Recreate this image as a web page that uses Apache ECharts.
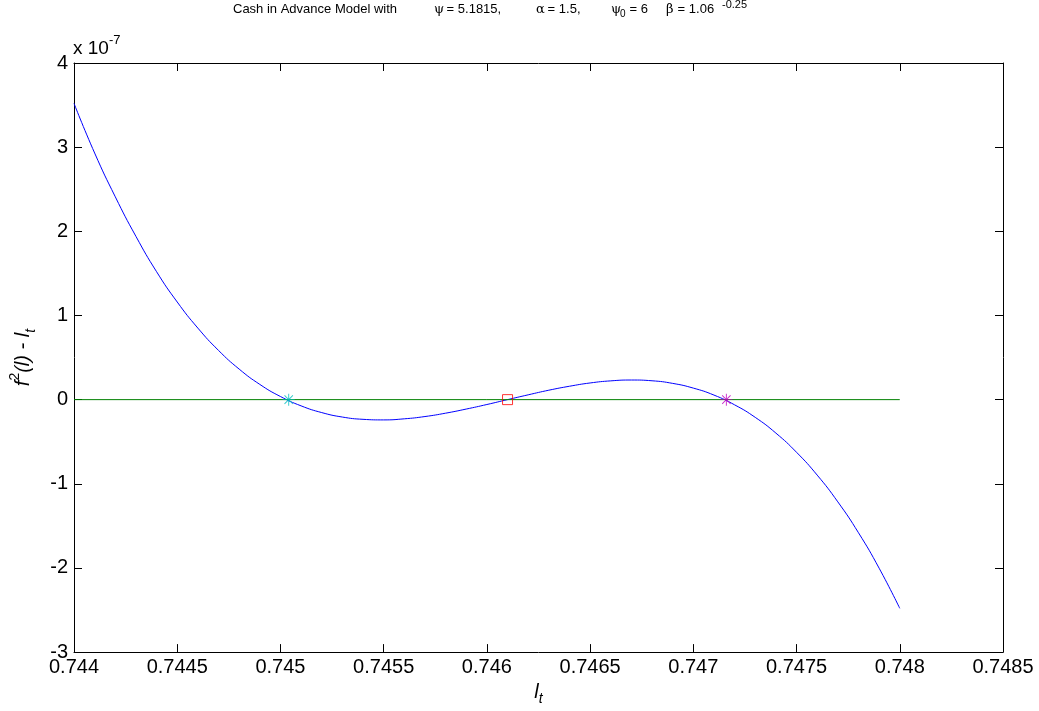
<!DOCTYPE html>
<html><head><meta charset="utf-8">
<script src="https://cdn.jsdelivr.net/npm/echarts@6/dist/echarts.min.js"></script>
<style>html,body{margin:0;padding:0;background:#fff}#c{width:1039px;height:711px}</style>
</head><body><div id="c"></div>
<script>
// x values of the plotted curve (l_t)
const xValues = [0.7440,0.7441,0.7442,0.7443,0.7444,0.7445,0.7446,0.7447,0.7448,0.7449,
  0.7450,0.7451,0.7452,0.7453,0.7454,0.7455,0.7456,0.7457,0.7458,0.7459,
  0.7460,0.7461,0.7462,0.7463,0.7464,0.7465,0.7466,0.7467,0.7468,0.7469,
  0.7470,0.7471,0.7472,0.7473,0.7474,0.7475,0.7476,0.7477,0.7478,0.7479,0.7480];
// f^2(l) - l_t, in units of 1e-7
const curveValues = [3.52,2.93,2.41,1.94,1.52,1.16,0.85,0.585,0.363,0.181,
  0.037,-0.074,-0.154,-0.207,-0.234,-0.241,-0.228,-0.201,-0.161,-0.112,
  -0.058,0.0,0.057,0.112,0.159,0.198,0.223,0.233,0.224,0.193,
  0.137,0.054,-0.062,-0.211,-0.398,-0.626,-0.897,-1.215,-1.582,-2.003,-2.48];
// zero reference line
const zeroLineX = [0.744, 0.748];
const zeroLineY = [0, 0];
// fixed points (roots)
const rootX = [0.74504, 0.74610, 0.74716];
const rootY = [0, 0, 0];
// ticks
const xTickLabels = ['0.744','0.7445','0.745','0.7455','0.746','0.7465','0.747','0.7475','0.748','0.7485'];
const yTickLabels = ['-3','-2','-1','0','1','2','3','4'];
const xMin = 0.744, xMax = 0.7485, xStep = 0.0005;
const yMin = -3, yMax = 4, yStep = 1;

const FONT = 'Liberation Sans';
const star = 'path://M0 4.6L10 4.6L10 5.4L0 5.4Z M4.6 0L5.4 0L5.4 10L4.6 10Z M1.78 1.22L8.78 8.22L8.22 8.78L1.22 1.78Z M8.78 1.78L1.78 8.78L1.22 8.22L8.22 1.22Z';

const chart = echarts.init(document.getElementById('c'), null, {renderer:'canvas'});
const xLab = v => { const i = Math.round((v - xMin) / xStep); return xTickLabels[i] || ''; };
const yLab = v => { const i = Math.round((v - yMin) / yStep); return yTickLabels[i] || ''; };
const tick = {show:true, inside:true, length:8, lineStyle:{color:'#000', width:1}};
const line = {show:true, onZero:false, lineStyle:{color:'#000', width:1}};

const tStyle = {fontFamily:FONT, fontSize:13, fill:'#000'};
const gStyle = {fontFamily:'DejaVu Serif', fontSize:13, fill:'#000'};
const TY = 16; // title baseline

chart.setOption({
  animation:false,
  backgroundColor:'#fff',
  grid:{left:73, right:36, top:63, bottom:54, containLabel:false},
  xAxis:[
    {type:'value', min:xMin, max:xMax, interval:xStep, position:'bottom',
     axisLine:line, axisTick:tick, splitLine:{show:false},
     axisLabel:{formatter:xLab, fontFamily:FONT, fontSize:20, color:'#000', margin:5},
     name:'{i|l}{sub|t}', nameLocation:'middle', nameGap:20,
     nameTextStyle:{rich:{
       i:{fontFamily:FONT, fontStyle:'italic', fontSize:20, color:'#000', lineHeight:28, verticalAlign:'middle'},
       sub:{fontFamily:FONT, fontStyle:'italic', fontSize:14, color:'#000', lineHeight:14, verticalAlign:'bottom'}}}},
    {type:'value', min:xMin, max:xMax, interval:xStep, position:'top',
     axisLine:line, axisTick:tick, axisLabel:{show:false}, splitLine:{show:false}}
  ],
  yAxis:[
    {type:'value', min:yMin, max:yMax, interval:yStep, position:'left',
     axisLine:line, axisTick:tick, splitLine:{show:false},
     axisLabel:{formatter:yLab, fontFamily:FONT, fontSize:20, color:'#000', margin:6},
     name:'{i|f}{sup|2}{i|(l) - l}{sub|t}', nameLocation:'middle', nameRotate:90, nameGap:36,
     nameTextStyle:{rich:{
       i:{fontFamily:FONT, fontStyle:'italic', fontSize:20, color:'#000', lineHeight:30, verticalAlign:'middle'},
       sup:{fontFamily:FONT, fontSize:14, color:'#000', lineHeight:14, verticalAlign:'top'},
       sub:{fontFamily:FONT, fontStyle:'italic', fontSize:14, color:'#000', lineHeight:14, verticalAlign:'bottom'}}}},
    {type:'value', min:yMin, max:yMax, interval:yStep, position:'right',
     axisLine:line, axisTick:tick, axisLabel:{show:false}, splitLine:{show:false}}
  ],
  series:[
    {type:'line', data:xValues.map((x,i)=>[x, curveValues[i]]), showSymbol:false, smooth:true,
     lineStyle:{color:'#0000ff', width:1}, z:2},
    {type:'line', data:zeroLineX.map((x,i)=>[x, zeroLineY[i]]), showSymbol:false,
     lineStyle:{color:'#008000', width:1}, z:3},
    {type:'scatter', data:[[rootX[0], rootY[0]]], symbol:star, symbolSize:12,
     itemStyle:{color:'#00bfbf'}, z:4},
    {type:'scatter', data:[[rootX[1], rootY[1]]], symbol:'rect', symbolSize:10,
     itemStyle:{color:'rgba(0,0,0,0)', borderColor:'#ff0000', borderWidth:1}, z:4},
    {type:'scatter', data:[[rootX[2], rootY[2]]], symbol:star, symbolSize:12,
     itemStyle:{color:'#bf00bf'}, z:4}
  ],
  graphic:[
    {type:'text', x:73, y:58, style:{
      text:'{a|x 10}{s|-7}', verticalAlign:'bottom', align:'left',
      rich:{a:{fontFamily:FONT, fontSize:19, color:'#000', lineHeight:24, verticalAlign:'bottom'},
            s:{fontFamily:FONT, fontSize:13, color:'#000', lineHeight:24, verticalAlign:'top'}}}},
    // title pieces
    {type:'text', x:233, y:TY, style:Object.assign({text:'Cash in Advance Model with', verticalAlign:'bottom'}, tStyle)},
    {type:'text', x:434, y:TY, style:Object.assign({text:'ψ', verticalAlign:'bottom'}, gStyle)},
    {type:'text', x:443, y:TY, style:Object.assign({text:' = 5.1815,', verticalAlign:'bottom'}, tStyle)},
    {type:'text', x:536, y:TY, style:Object.assign({text:'α', verticalAlign:'bottom'}, gStyle)},
    {type:'text', x:544, y:TY, style:Object.assign({text:' = 1.5,', verticalAlign:'bottom'}, tStyle)},
    {type:'text', x:611, y:TY, style:Object.assign({text:'ψ', verticalAlign:'bottom'}, gStyle)},
    {type:'text', x:620, y:TY+3, style:Object.assign({text:'0', verticalAlign:'bottom'}, tStyle, {fontSize:10})},
    {type:'text', x:626, y:TY, style:Object.assign({text:' = 6', verticalAlign:'bottom'}, tStyle)},
    {type:'text', x:666, y:TY, style:Object.assign({text:'β', verticalAlign:'bottom'}, gStyle)},
    {type:'text', x:674, y:TY, style:Object.assign({text:' = 1.06', verticalAlign:'bottom'}, tStyle)},
    {type:'text', x:722, y:TY-6, style:Object.assign({text:'-0.25', verticalAlign:'bottom'}, tStyle, {fontSize:11})}
  ]
});
</script></body></html>
